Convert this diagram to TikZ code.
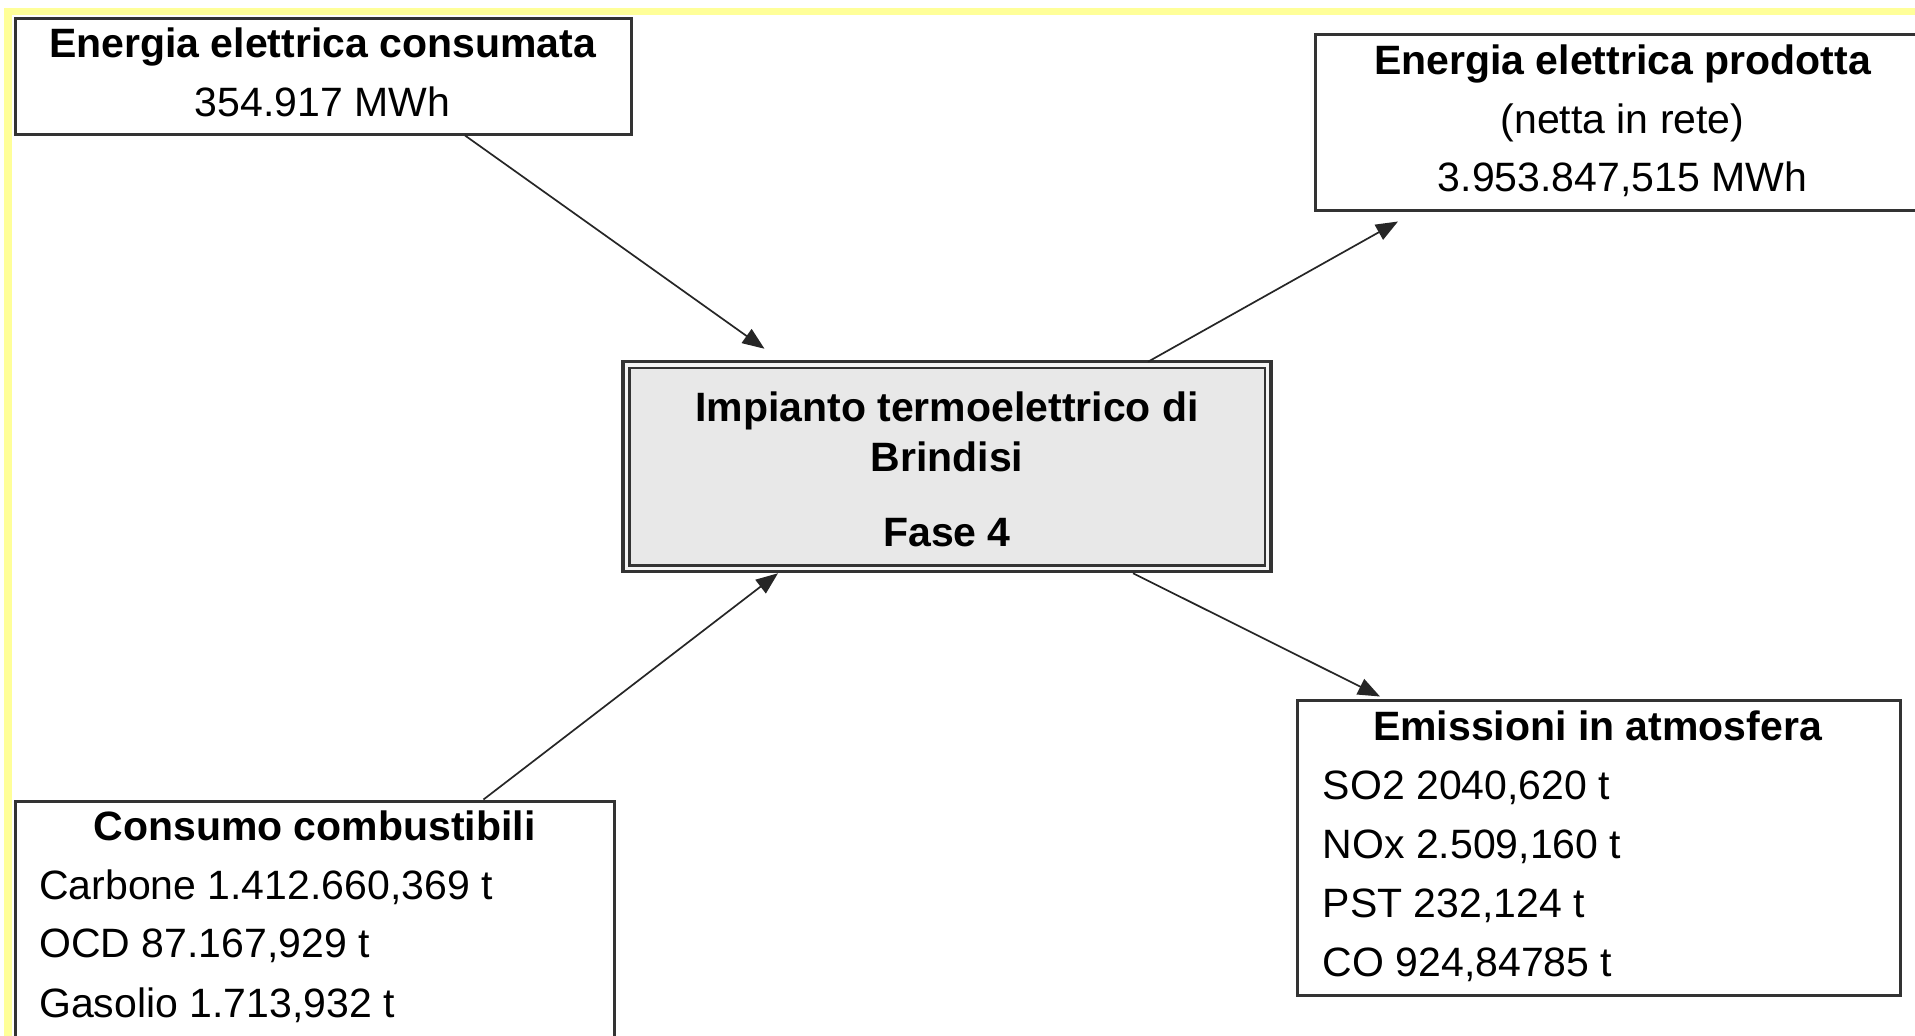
\documentclass[tikz,border=0pt]{standalone}
\usepackage{fontspec}
\setmainfont{Liberation Sans}
\usetikzlibrary{arrows.meta}
\definecolor{frameyellow}{HTML}{FFFF99}
\definecolor{boxline}{HTML}{333333}
\definecolor{plantfill}{HTML}{E8E8E8}
\definecolor{plantgap}{HTML}{F4F4F4}
\begin{document}
\begin{tikzpicture}[x=1pt,y=-1pt,
  box/.style={draw=boxline, line width=3pt, fill=white, inner sep=0pt, rectangle},
  txt/.style={inner sep=0pt, anchor=base, font=\fontsize{41}{49}\selectfont},
  btxt/.style={inner sep=0pt, anchor=base, font=\fontsize{41}{49}\selectfont\bfseries},
  ltxt/.style={inner sep=0pt, anchor=base west, font=\fontsize{41}{49}\selectfont},
  conn/.style={draw=black!85, line width=1.7pt, -{Triangle[length=22pt,width=17pt]}}]
\useasboundingbox (0,0) rectangle (1915,1036);
\fill[white] (0,0) rectangle (1915,1036);
% yellow frame
\fill[frameyellow] (4,8) rectangle (1915,15);
\fill[frameyellow] (4,8) rectangle (12,1036);
% boxes
\node[box, minimum width=616pt, minimum height=116pt] (cons) at (323,76) {};
\node[box, minimum width=615pt, minimum height=176pt] (prod) at (1622.5,122) {};
\node[box, line width=3.5pt, fill=plantgap, minimum width=648pt, minimum height=210pt] (plant) at (947,466.5) {};
\draw[draw=boxline, line width=2.5pt, fill=plantfill] ([shift={(8pt,-8pt)}]plant.north west) rectangle ([shift={(-8pt,8pt)}]plant.south east);
\node[box, minimum width=599pt, minimum height=249pt] (fuel) at (314.5,925.5) {};
\node[box, minimum width=603pt, minimum height=295pt] (emis) at (1598.5,847.5) {};
% texts
\node[btxt] (cons1) at (322.5,57.4) {Energia elettrica consumata};
\node[txt] (cons2) at (322.5,116) {354.917 MWh};
\node[btxt] (prod1) at (1622.5,74.5) {Energia elettrica prodotta};
\node[txt] (prod2) at (1622.5,133.1) {(netta in rete)};
\node[txt] (prod3) at (1622.5,191.7) {3.953.847,515 MWh};
\node[btxt] (plant1) at (947,421) {Impianto termoelettrico di};
\node[btxt] (plant2) at (947,471) {Brindisi};
\node[btxt] (plant3) at (947,546) {Fase 4};
\node[btxt] (fuel1) at (314.5,840) {Consumo combustibili};
\node[ltxt] (fuel2) at (39,899) {Carbone 1.412.660,369 t};
\node[ltxt] (fuel3) at (39,957.5) {OCD 87.167,929 t};
\node[ltxt] (fuel4) at (39,1017) {Gasolio 1.713,932 t};
\node[btxt] (emis1) at (1597.5,740) {Emissioni in atmosfera};
\node[ltxt] (emis2) at (1322.6,799) {SO2 2040,620 t};
\node[ltxt] (emis3) at (1322.6,858.6) {NOx 2.509,160 t};
\node[ltxt] (emis4) at (1322.6,917) {PST 232,124 t};
\node[ltxt] (emis5) at (1322.6,976) {CO 924,84785 t};
% connectors
\draw[conn] ([xshift=142pt]cons.south) -- ([xshift=-182.5pt,yshift=11pt]plant.north);
\draw[conn] ([xshift=201pt,yshift=-2pt]plant.north) -- ([xshift=-224.5pt,yshift=-10pt]prod.south);
\draw[conn] ([xshift=169pt]fuel.north) -- ([xshift=-169pt]plant.south);
\draw[conn] ([xshift=186pt]plant.south) -- ([xshift=-218.5pt,yshift=2pt]emis.north);
\end{tikzpicture}
\end{document}
